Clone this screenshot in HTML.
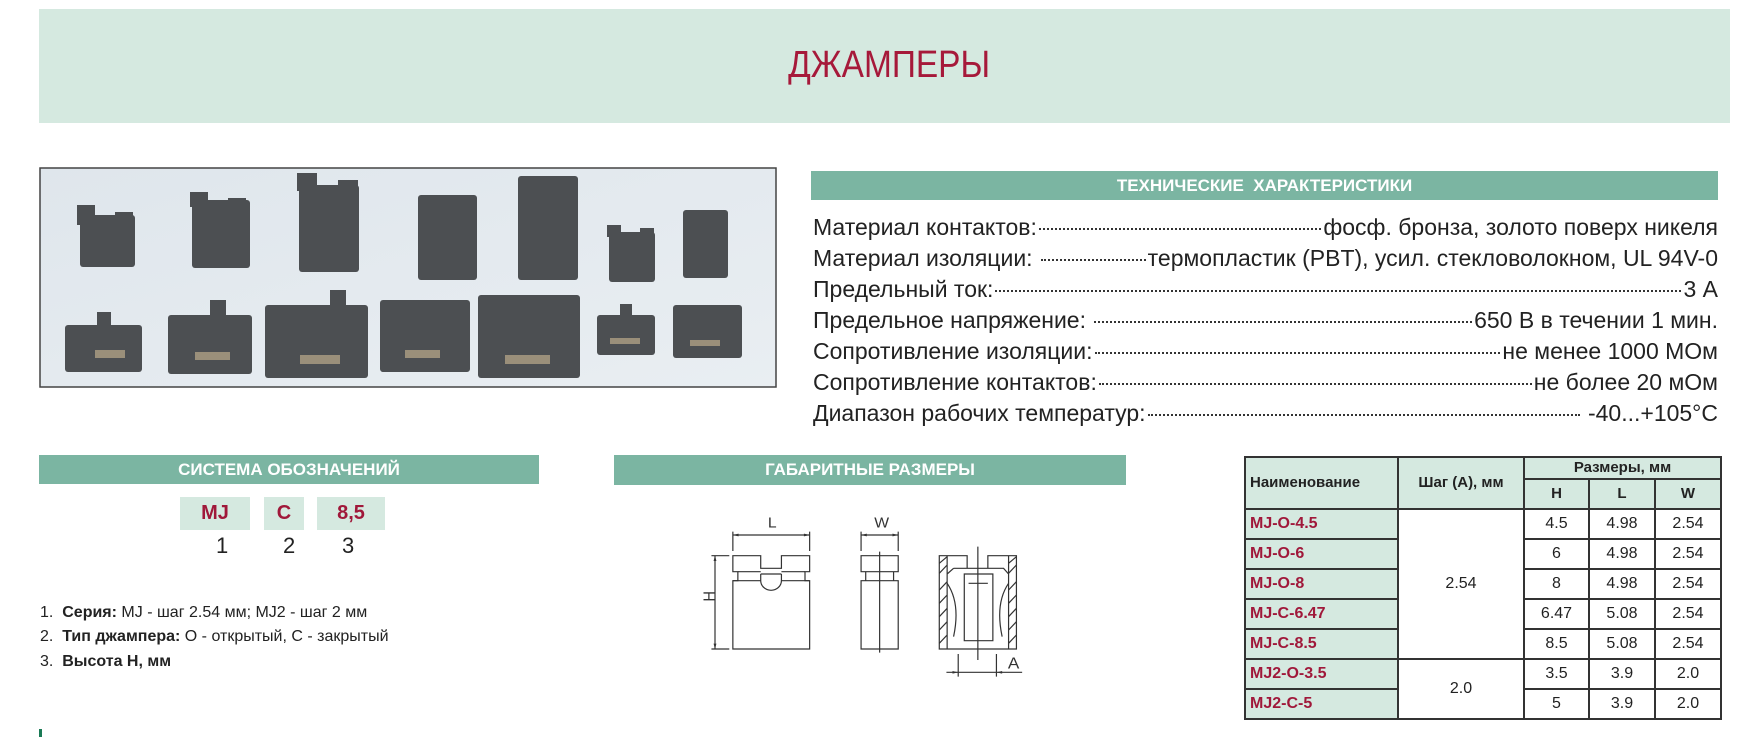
<!DOCTYPE html>
<html><head><meta charset="utf-8"><style>
body{margin:0;width:1747px;height:737px;background:#fff;position:relative;overflow:hidden;font-family:"Liberation Sans",sans-serif}
.a{position:absolute}
.bar{position:absolute;background:#7bb5a2;color:#fff;font-weight:bold;font-size:17px;text-align:center;font-family:"Liberation Sans Narrow","Liberation Sans",sans-serif}
.spec{position:absolute;left:813px;width:905px;font-family:"Liberation Sans Narrow","Liberation Sans",sans-serif;font-size:23px;color:#222;display:flex;align-items:baseline;height:31px;line-height:31px}
.spec .d{flex:1;border-bottom:2px dotted #333;margin:0 2px;height:0;transform:translateY(-5px)}
.box{position:absolute;background:#d5e9e0;color:#a0183a;font-weight:bold;font-size:20px;text-align:center;line-height:33px;top:497px;height:33px;font-family:"Liberation Sans Narrow","Liberation Sans",sans-serif}
.num{position:absolute;top:533px;font-size:22px;color:#222}
.li{position:absolute;left:40px;font-size:16px;color:#222;font-family:"Liberation Sans Narrow","Liberation Sans",sans-serif}
table{position:absolute;left:1244px;top:456px;border-collapse:collapse;font-size:16px}
td{border:2px solid #333;height:28px;padding:0;text-align:center;color:#222}
td.n{background:#d5e9e0;color:#a0183a;font-weight:bold;text-align:left;padding-left:4px}
td.h{background:#d5e9e0;font-weight:bold;color:#222;font-size:15px;line-height:18px}
</style></head><body>
<div class="a" style="left:39px;top:9px;width:1691px;height:114px;background:#d5e9e0"></div>
<div class="a" style="left:39px;top:44px;width:1691px;text-align:center;color:#a6193a;font-size:38px;transform:scaleX(0.88);transform-origin:884px 0">ДЖАМПЕРЫ</div>

<svg class="a" style="left:39px;top:167px" width="738" height="221" viewBox="39 167 738 221">
<defs><linearGradient id="g" x1="0" y1="0" x2="1" y2="1"><stop offset="0" stop-color="#dfe6ec"/><stop offset="1" stop-color="#e9eef2"/></linearGradient></defs>
<rect x="40" y="168" width="736" height="219" fill="url(#g)" stroke="#444" stroke-width="1.5"/>
<g fill="#4c4f52">
<rect x="80" y="215" width="55" height="52" rx="3"/><rect x="77" y="205" width="18" height="20"/><rect x="115" y="212" width="18" height="15"/>
<rect x="192" y="200" width="58" height="68" rx="3"/><rect x="190" y="192" width="18" height="15"/><rect x="228" y="198" width="18" height="12"/>
<rect x="299" y="185" width="60" height="87" rx="3"/><rect x="297" y="173" width="20" height="18"/><rect x="338" y="180" width="20" height="14"/>
<rect x="418" y="195" width="59" height="85" rx="3"/>
<rect x="518" y="176" width="60" height="104" rx="3"/>
<rect x="609" y="232" width="46" height="50" rx="3"/><rect x="607" y="225" width="14" height="12"/><rect x="640" y="228" width="14" height="10"/>
<rect x="683" y="210" width="45" height="68" rx="3"/>
<rect x="65" y="325" width="77" height="47" rx="3"/><rect x="97" y="312" width="14" height="15"/>
<rect x="168" y="315" width="84" height="59" rx="3"/><rect x="210" y="300" width="16" height="16"/>
<rect x="265" y="305" width="103" height="73" rx="3"/><rect x="330" y="290" width="16" height="18"/>
<rect x="380" y="300" width="90" height="72" rx="3"/>
<rect x="478" y="295" width="102" height="83" rx="3"/>
<rect x="597" y="315" width="58" height="40" rx="3"/><rect x="620" y="304" width="12" height="12"/>
<rect x="673" y="305" width="69" height="53" rx="3"/>
</g>
<g fill="#9a8f7a"><rect x="95" y="350" width="30" height="8"/><rect x="195" y="352" width="35" height="8"/><rect x="300" y="355" width="40" height="9"/><rect x="405" y="350" width="35" height="8"/><rect x="505" y="355" width="45" height="9"/><rect x="610" y="338" width="30" height="6"/><rect x="690" y="340" width="30" height="6"/></g>
</svg>

<div class="bar" style="left:811px;top:171px;width:907px;height:29px;line-height:29px">ТЕХНИЧЕСКИЕ&nbsp; ХАРАКТЕРИСТИКИ</div>
<div class="spec" style="top:212px"><span>Материал контактов:</span><span class="d"></span><span>фосф. бронза, золото поверх никеля</span></div>
<div class="spec" style="top:243px"><span>Материал изоляции:&nbsp;</span><span class="d"></span><span>термопластик (PBT), усил. стекловолокном, UL 94V-0</span></div>
<div class="spec" style="top:274px"><span>Предельный ток:</span><span class="d"></span><span>3 А</span></div>
<div class="spec" style="top:305px"><span>Предельное напряжение:&nbsp;</span><span class="d"></span><span>650 В в течении 1 мин.</span></div>
<div class="spec" style="top:336px"><span>Сопротивление изоляции:</span><span class="d"></span><span>не менее 1000 МОм</span></div>
<div class="spec" style="top:367px"><span>Сопротивление контактов:</span><span class="d"></span><span>не более 20 мОм</span></div>
<div class="spec" style="top:398px"><span>Диапазон рабочих температур:</span><span class="d"></span><span>&nbsp;-40...+105°С</span></div>

<div class="bar" style="left:39px;top:455px;width:500px;height:29px;line-height:29px">СИСТЕМА ОБОЗНАЧЕНИЙ</div>
<div class="box" style="left:180px;width:70px">MJ</div>
<div class="box" style="left:264px;width:40px">C</div>
<div class="box" style="left:317px;width:68px">8,5</div>
<div class="num" style="left:216px">1</div><div class="num" style="left:283px">2</div><div class="num" style="left:342px">3</div>
<div class="li" style="top:604px">1.&nbsp; <b>Серия:</b> MJ - шаг 2.54 мм; MJ2 - шаг 2 мм</div>
<div class="li" style="top:628px">2.&nbsp; <b>Тип джампера:</b> O - открытый, C - закрытый</div>
<div class="li" style="top:653px">3.&nbsp; <b>Высота H, мм</b></div>
<div class="a" style="left:39px;top:729px;width:3px;height:8px;background:#1a7a55"></div>

<div class="bar" style="left:614px;top:455px;width:512px;height:30px;line-height:30px">ГАБАРИТНЫЕ РАЗМЕРЫ</div>
<svg class="a" style="left:600px;top:450px" width="560" height="287" viewBox="0 0 1568 861" preserveAspectRatio="none">
<g fill="none" stroke="#333" stroke-width="1.2">
<path vector-effect="non-scaling-stroke" d="M372 317H450V355H508V317H587V365H574V392H587V597H372V392H386V365H372Z"/>
<path vector-effect="non-scaling-stroke" d="M386 365H450M508 365H574M372 392H450M508 392H587M450 372H508M450 372V392A29 29 0 0 0 508 392V372"/>
<path vector-effect="non-scaling-stroke" d="M372 303V245M587 303V245M372 255H587M312 317H362M312 597H362M322 317V597"/>
<path vector-effect="non-scaling-stroke" d="M731 317H835V365H822V392H835V597H731V392H744V365H731Z M744 365H822 M731 392H835 M783 305V608 M731 303V245M835 303V245M731 255H835"/>
<path vector-effect="non-scaling-stroke" d="M950 317H1028V355H1086V317H1166V597H950Z M972 317V597 M1144 317V597 M990 355H1130L1144 372 M990 355L972 372 M1020 372H1100V572H1020Z M1032 400H1086 M1058 290V630 M1003 612V680 M1110 612V680 M970 667H1182"/>
<path vector-effect="non-scaling-stroke" d="M972 400Q1010 460 990 560 M1144 400Q1106 460 1126 560"/>
<path vector-effect="non-scaling-stroke" d="M950 340L972 320 M950 370L972 345 M950 420L972 395 M950 460L972 435 M950 500L972 475 M950 540L972 515 M950 580L972 555 M1144 340L1166 320 M1144 370L1166 345 M1144 420L1166 395 M1144 460L1166 435 M1144 500L1166 475 M1144 540L1166 515 M1144 580L1166 555"/>
</g>
<g fill="#333"><path d="M372 255l16 -4v8z M587 255l-16 -4v8z M731 255l16 -4v8z M835 255l-16 -4v8z M322 317l-4 16h8z M322 597l-4 -16h8z M1003 667l-16 -4v8z M1110 667l16 -4v8z"/></g>
<g font-family="Liberation Sans,sans-serif" font-size="44" fill="#333">
<text x="470" y="232">L</text><text x="768" y="232">W</text><text x="1142" y="655" font-size="48">A</text>
<text x="305" y="470" transform="rotate(-90 305 455)">H</text></g>
</svg>

<table>
<tr><td class="h" rowspan="2" style="width:147px;text-align:left;padding-left:4px;height:40px">Наименование</td><td class="h" rowspan="2" style="width:124px">Шаг (A), мм</td><td class="h" colspan="3" style="height:20px">Размеры, мм</td></tr>
<tr><td class="h" style="width:63px;height:20px">H</td><td class="h" style="width:64px">L</td><td class="h" style="width:64px">W</td></tr>
<tr><td class="n">MJ-O-4.5</td><td rowspan="5">2.54</td><td>4.5</td><td>4.98</td><td>2.54</td></tr>
<tr><td class="n">MJ-O-6</td><td>6</td><td>4.98</td><td>2.54</td></tr>
<tr><td class="n">MJ-O-8</td><td>8</td><td>4.98</td><td>2.54</td></tr>
<tr><td class="n">MJ-C-6.47</td><td>6.47</td><td>5.08</td><td>2.54</td></tr>
<tr><td class="n">MJ-C-8.5</td><td>8.5</td><td>5.08</td><td>2.54</td></tr>
<tr><td class="n">MJ2-O-3.5</td><td rowspan="2">2.0</td><td>3.5</td><td>3.9</td><td>2.0</td></tr>
<tr><td class="n">MJ2-C-5</td><td>5</td><td>3.9</td><td>2.0</td></tr>
</table>
</body></html>
